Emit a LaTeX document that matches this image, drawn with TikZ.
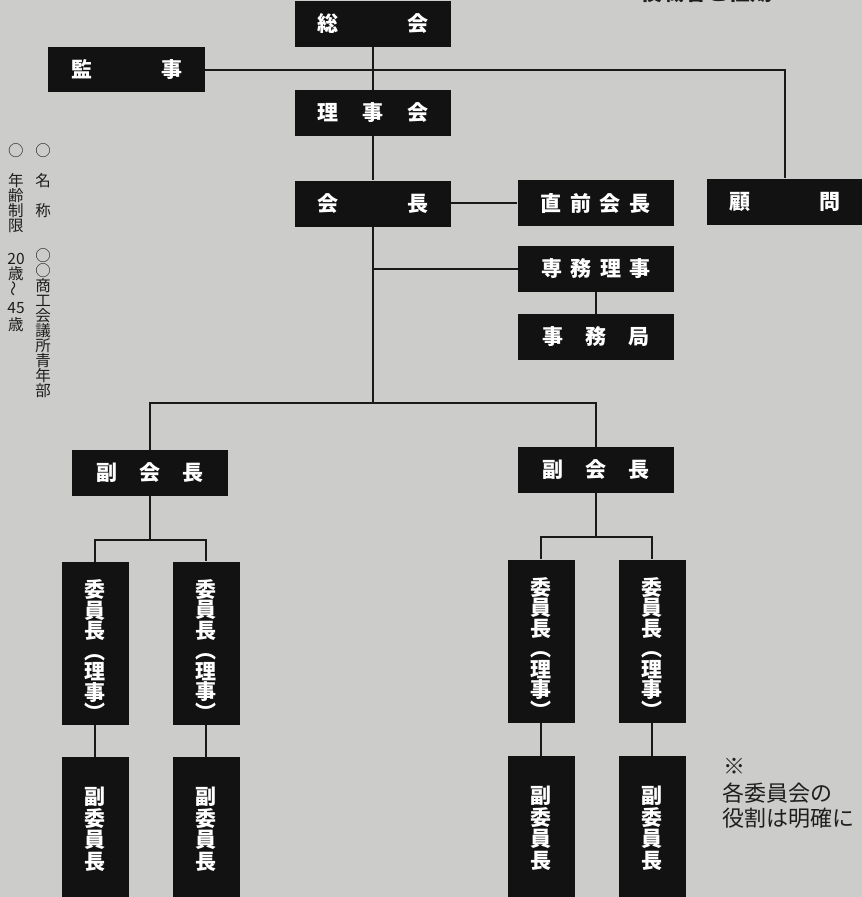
\documentclass[tikz,border=0pt]{standalone}
\usepackage{fontspec}
\newfontfamily\jp{Noto Sans CJK JP}
\definecolor{bgc}{RGB}{204,204,202}
\definecolor{boxc}{RGB}{18,18,18}
\definecolor{linec}{RGB}{25,25,25}
\definecolor{txc}{RGB}{30,30,30}
\begin{document}
\begin{tikzpicture}[x=1pt,y=-1pt,
  box/.style={fill=boxc, text=white, inner sep=0pt, minimum width=156pt, minimum height=46pt,
    font=\jp\bfseries\fontsize{21}{21}\selectfont},
  vbox/.style={fill=boxc, inner sep=0pt, minimum width=67pt},
  vtext/.style={text=white, inner sep=0pt, align=center,
    font=\jp\bfseries\fontsize{21}{20.5}\selectfont},
  conn/.style={draw=linec, line width=2pt},
  note/.style={text=txc, inner sep=0pt, font=\jp\fontsize{15.5}{15}\selectfont, align=center},
  bignote/.style={text=txc, inner sep=0pt, font=\jp\fontsize{22}{25}\selectfont, align=left}]
\fill[bgc] (0,0) rectangle (862,897);
\useasboundingbox (0,0) rectangle (862,897);
\begin{scope}
\clip (0,0) rectangle (862,897);
% partly cut title
\node[text=txc, inner sep=0pt, anchor=south west, font=\jp\bfseries\fontsize{22}{22}\selectfont] (title) at (640,3) {役職者と任期};
% boxes
\node[box] (soukai) at (373,24) {総\hspace{69pt}会};
\node[box, minimum width=157pt, minimum height=45pt] (kansa) at (126.5,69.5) {監\hspace{69pt}事};
\node[box] (rijikai) at (373,113) {理\hspace{24pt}事\hspace{24pt}会};
\node[box] (kaicho) at (373,203.5) {会\hspace{69pt}長};
\node[box] (zenkai) at (595.5,203) {直\hspace{8.5pt}前\hspace{8.5pt}会\hspace{8.5pt}長};
\node[box] (komon) at (785,201.5) {顧\hspace{69pt}問};
\node[box] (senmu) at (596,269) {専\hspace{8.5pt}務\hspace{8.5pt}理\hspace{8.5pt}事};
\node[box] (jimu) at (596,337) {事\hspace{22pt}務\hspace{22pt}局};
\node[box] (fukuL) at (150,473) {副\hspace{22pt}会\hspace{22pt}長};
\node[box] (fukuR) at (596,470) {副\hspace{22pt}会\hspace{22pt}長};
\node[vbox, minimum height=163pt] (iL1) at (95,643.5) {};
\node[vbox, minimum height=163pt] (iL2) at (206,643) {};
\node[vbox, minimum height=163pt] (iR1) at (541,641) {};
\node[vbox, minimum height=163pt] (iR2) at (652,641) {};
\node[vtext, yshift=-7pt] (iL1t) at (iL1) {委\\員\\長\\︵\\理\\事\\︶};
\node[vtext, yshift=-7pt] (iL2t) at (iL2) {委\\員\\長\\︵\\理\\事\\︶};
\node[vtext, yshift=-7pt] (iR1t) at (iR1) {委\\員\\長\\︵\\理\\事\\︶};
\node[vtext, yshift=-7pt] (iR2t) at (iR2) {委\\員\\長\\︵\\理\\事\\︶};
\node[vbox, minimum height=144pt] (fL1) at (95,829) {};
\node[vbox, minimum height=144pt] (fL2) at (206,829) {};
\node[vbox, minimum height=144pt] (fR1) at (541,828) {};
\node[vbox, minimum height=144pt] (fR2) at (652,828) {};
\node[vtext, font=\jp\bfseries\fontsize{21}{21.5}\selectfont] (fL1t) at (fL1) {副\\委\\員\\長};
\node[vtext, font=\jp\bfseries\fontsize{21}{21.5}\selectfont] (fL2t) at (fL2) {副\\委\\員\\長};
\node[vtext, font=\jp\bfseries\fontsize{21}{21.5}\selectfont] (fR1t) at (fR1) {副\\委\\員\\長};
\node[vtext, font=\jp\bfseries\fontsize{21}{21.5}\selectfont] (fR2t) at (fR2) {副\\委\\員\\長};
\end{scope}
% connectors
\coordinate (bus) at (373,403);
\coordinate (busL) at (150,540);
\coordinate (busR) at (596,537);
\draw[conn] (soukai) -- (rijikai);
\draw[conn] (kansa.east) -| (komon.north);
\draw[conn] (rijikai) -- (kaicho);
\draw[conn] (zenkai.west) -- (zenkai.west -| kaicho.east);
\draw[conn] (kaicho.south) -- (bus);
\draw[conn] (senmu.west) -- (senmu.west -| kaicho.south);
\draw[conn] (senmu) -- (jimu);
\draw[conn] (fukuL.north) |- (bus) -| (fukuR.north);
\draw[conn] (fukuL.south) -- (busL);
\draw[conn] (iL1.north) |- (busL) -| (iL2.north);
\draw[conn] (fukuR.south) -- (busR);
\draw[conn] (iR1.north) |- (busR) -| (iR2.north);
\draw[conn] (iL1) -- (fL1);
\draw[conn] (iL2) -- (fL2);
\draw[conn] (iR1) -- (fR1);
\draw[conn] (iR2) -- (fR2);
% side notes
\node[note, anchor=north] (colA) at (43,143) {○\\　\\名\\　\\称\\　\\　\\○\\○\\商\\工\\会\\議\\所\\青\\年\\部};
\node[note, anchor=north] (colB) at (16,143) {○\\　\\年\\齢\\制\\限\\[18pt]20\\歳\\\rotatebox{90}{～}\\[2pt]45\\[2pt]歳};
\node[bignote, anchor=west] (mark) at (723,766) {※};
\node[bignote, anchor=north west] (note2) at (722,783) {各委員会の\\役割は明確に};
\end{tikzpicture}
\end{document}
